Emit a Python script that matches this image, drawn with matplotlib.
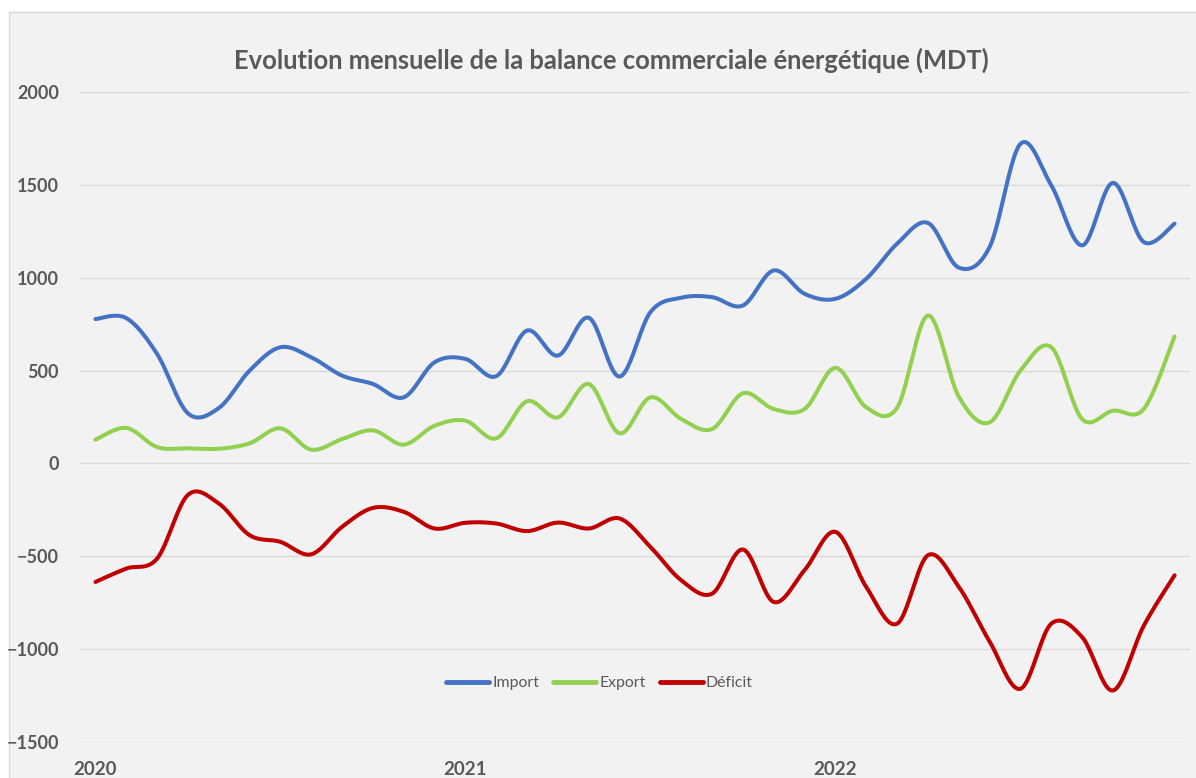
import numpy as np
import matplotlib.pyplot as plt
from matplotlib.patches import Rectangle

# monthly values, Jan 2020 .. Dec 2022 (MDT)
year_labels = ["2020", "2021", "2022"]
import_vals = [778, 783, 590, 270, 298, 500, 626, 572, 473, 428,
               356, 545, 563, 470, 716, 581, 785, 468, 815, 893,
               896, 851, 1040, 914, 887, 995, 1184, 1296, 1055, 1166,
               1722, 1499, 1175, 1512, 1193, 1292]
export_vals = [128, 191, 88, 81, 79, 108, 189, 74, 131, 178,
               101, 203, 230, 135, 335, 248, 428, 162, 356, 239,
               185, 378, 293, 293, 515, 302, 300, 797, 360, 221,
               500, 626, 239, 284, 293, 684]
deficit_vals = [-639, -567, -513, -170, -216, -387, -423, -490, -342, -240,
                -261, -351, -320, -324, -365, -319, -351, -297, -450, -630,
                -702, -464, -747, -575, -369, -666, -864, -495, -665, -960,
                -1215, -864, -936, -1224, -875, -603]

series = [("Import", import_vals, "#4472C4"),
          ("Export", export_vals, "#92D050"),
          ("Déficit", deficit_vals, "#C00000")]


# smoothed line like the spreadsheet one (bezier through each point)
def smooth(y, n=24):
    y = np.asarray(y, dtype=float)
    x = np.arange(len(y), dtype=float)
    xs, ys = [], []
    for i in range(len(y) - 1):
        x0, y0 = (x[i - 1], y[i - 1]) if i > 0 else (x[i], y[i])
        x3, y3 = (x[i + 2], y[i + 2]) if i + 2 < len(y) else (x[i + 1], y[i + 1])
        cx1 = x[i] + (x[i + 1] - x0) / 6
        cy1 = y[i] + (y[i + 1] - y0) / 6
        cx2 = x[i + 1] - (x3 - x[i]) / 6
        cy2 = y[i + 1] - (y3 - y[i]) / 6
        t = np.linspace(0, 1, n)
        b0, b1, b2, b3 = (1 - t) ** 3, 3 * (1 - t) ** 2 * t, 3 * (1 - t) * t ** 2, t ** 3
        xs.append(b0 * x[i] + b1 * cx1 + b2 * cx2 + b3 * x[i + 1])
        ys.append(b0 * y[i] + b1 * cy1 + b2 * cy2 + b3 * y[i + 1])
    return np.concatenate(xs), np.concatenate(ys)


plt.rcParams['font.family'] = ['Lato', 'DejaVu Sans']
W, H = 1196, 778
fig = plt.figure(figsize=(W / 100, H / 100), dpi=100, facecolor="white")

# chart area background with thin border
fig.patches.append(Rectangle((8.5 / W, -0.1), 1.2, 1 - 12 / H + 0.1,
                             transform=fig.transFigure, facecolor="#F2F2F2",
                             edgecolor="#D9D9D9", linewidth=1, zorder=-10))

ax = fig.add_axes([80 / W, 1 - 741.7 / H, 1110 / W, (741.7 - 92.3) / H])
ax.set_facecolor("none")
ax.set_zorder(5)

for name, vals, col in series:
    sx, sy = smooth(vals)
    ax.plot(sx, sy, color=col, lw=2.9, label=name, solid_capstyle="round")

ax.set_xlim(-0.5, len(import_vals) - 0.5)
ax.set_ylim(-1500, 2000)
ax.set_yticks(np.arange(-1500, 2001, 500))
ax.set_xticks([0, 12, 24])
ax.set_xticklabels(year_labels)
ax.grid(axis="y", color="#D9D9D9", lw=1)
ax.set_axisbelow(True)
for s in ax.spines.values():
    s.set_visible(False)
ax.tick_params(axis="y", length=0, pad=15, labelsize=13, labelcolor="#595959")
ax.tick_params(axis="x", length=0, pad=14, labelsize=13.5, labelcolor="#595959")
for lab in ax.get_yticklabels() + ax.get_xticklabels():
    lab.set_fontweight("bold")

fig.text(611 / W, 1 - 60 / H,
         "Evolution mensuelle de la balance commerciale énergétique (MDT)",
         ha="center", va="center", fontsize=18.4, fontweight="bold", color="#595959")

leg = ax.legend(loc="center", bbox_to_anchor=(0.468, 0.09), ncol=3, frameon=False,
                fontsize=11.4, handlelength=2.7, handletextpad=0.2,
                columnspacing=0.9, labelcolor="#595959")
for h in leg.get_lines():
    h.set_linewidth(3.5)

fig.savefig("out.png", dpi=100, facecolor="white")
